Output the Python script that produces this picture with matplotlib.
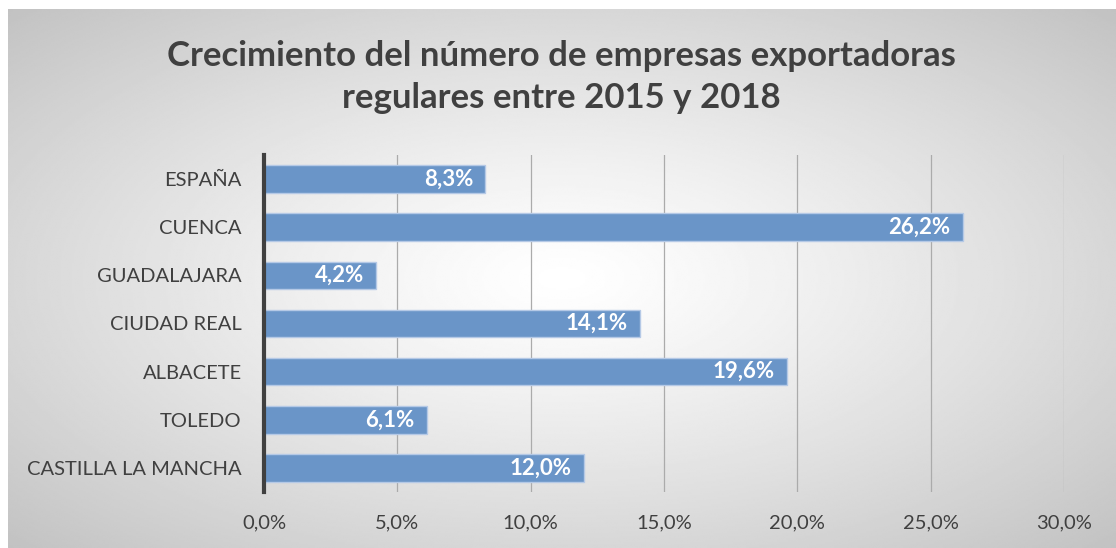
import numpy as np
import matplotlib.pyplot as plt
from matplotlib.ticker import FuncFormatter

plt.rcParams['font.family'] = ['Lato', 'DejaVu Sans']

regiones = ["ESPAÑA", "CUENCA", "GUADALAJARA", "CIUDAD REAL",
            "ALBACETE", "TOLEDO", "CASTILLA LA MANCHA"]
crecimiento = [8.3, 26.2, 4.2, 14.1, 19.6, 6.1, 12.0]
ticks_x = [0, 5, 10, 15, 20, 25, 30]

titulo = "Crecimiento del número de empresas exportadoras\nregulares entre 2015 y 2018"

fig = plt.figure(figsize=(11.16, 5.48), dpi=100)

# fondo con degradado radial (blanco en el centro, gris en los bordes)
bg = fig.add_axes([0, 0, 1, 1], zorder=-10)
yy, xx = np.mgrid[-1:1:300j, -1:1:600j]
r = np.clip(np.sqrt(xx**2 + yy**2) / 1.42, 0, 1)
bg.imshow(1 - 0.24 * r**1.2, cmap="gray", vmin=0, vmax=1, aspect="auto",
          extent=[8 / 1116, 1, 0, 1 - 9 / 548], interpolation="bilinear")
bg.set_xlim(0, 1)
bg.set_ylim(0, 1)
bg.axis("off")

ax = fig.add_axes([264 / 1116, 1 - 492 / 548, 800 / 1116, 337 / 548])
ax.patch.set_alpha(0)

y = np.arange(len(regiones))
bars = ax.barh(y, crecimiento, height=0.57, color="#6a95c8",
               edgecolor="#b5c9e6", linewidth=1, zorder=3)
for b, v in zip(bars, crecimiento):
    ax.text(v - 0.45, b.get_y() + b.get_height() / 2,
            f"{v:.1f}%".replace(".", ","), ha="right", va="center",
            color="white", fontsize=16, fontweight="bold", zorder=4)

ax.set_xlim(0, 30)
ax.set_ylim(len(regiones) - 0.5, -0.5)
ax.set_yticks(y)
ax.set_yticklabels(regiones)
ax.set_xticks(ticks_x)
ax.xaxis.set_major_formatter(FuncFormatter(lambda v, p: f"{v:.1f}%".replace(".", ",")))
ax.tick_params(length=0, labelsize=14.5, labelcolor="#404040")
ax.tick_params(axis="x", pad=16)
ax.tick_params(axis="y", pad=16)
ax.grid(axis="x", color="#ababab", linewidth=0.9, zorder=0)
for s in ["top", "right", "bottom"]:
    ax.spines[s].set_visible(False)
ax.spines["left"].set_color("#404040")
ax.spines["left"].set_linewidth(3)
ax.spines["left"].set_zorder(5)

fig.text(0.503, 1 - 77 / 548, titulo, ha="center", va="center",
         fontsize=25, fontweight="bold", color="#404040", linespacing=1.35)

fig.savefig("out.png", dpi=100)
